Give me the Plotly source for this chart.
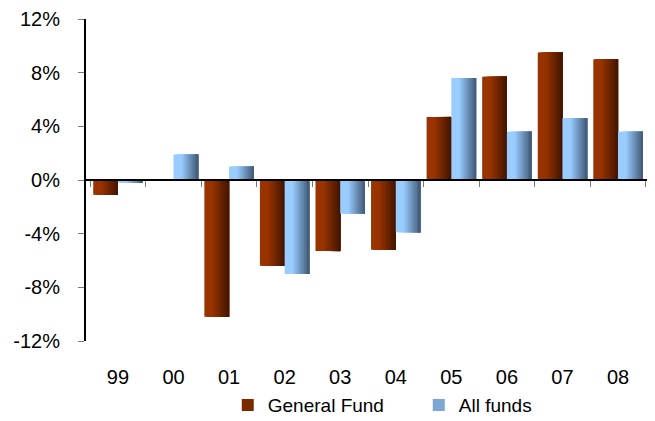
import plotly.graph_objects as go

YEARS = ["99", "00", "01", "02", "03", "04", "05", "06", "07", "08"]
GENERAL_FUND = [-1.1, 0.0, -10.2, -6.4, -5.3, -5.2, 4.7, 7.7, 9.5, 9.0]
ALL_FUNDS = [-0.2, 1.9, 1.0, -7.0, -2.5, -3.9, 7.6, 3.6, 4.6, 3.6]
Y_TICKS = [-12, -8, -4, 0, 4, 8, 12]
Y_LABELS = ["-12%", "-8%", "-4%", "0%", "4%", "8%", "12%"]

FONT = "Liberation Sans, Arial, sans-serif"
BAR_W = 0.445
SLICES = 14


def blend(c1, c2, t):
    return "rgb({},{},{})".format(*[round(a + (b - a) * t) for a, b in zip(c1, c2)])


def gradient_bars(fig, name, values, start, left, right):
    # fake a horizontal gradient with stacked slices, each reaching to the bar's right edge;
    # left third stays flat, then darkens towards the right edge
    step = BAR_W / SLICES
    for i in range(SLICES):
        t = max(0.0, (i / (SLICES - 1) - 0.3) / 0.7)
        fig.add_trace(go.Bar(
            x=YEARS, y=values, name=name, legendgroup=name,
            showlegend=(i == SLICES // 2),
            offset=start + i * step, width=BAR_W - i * step,
            marker=dict(color=blend(left, right, t), line=dict(width=0)),
            xaxis="x", yaxis="y",
        ))


fig = go.Figure()
gradient_bars(fig, "General Fund", GENERAL_FUND, -BAR_W, (153, 51, 0), (70, 22, 0))
gradient_bars(fig, "All funds", ALL_FUNDS, 0.0, (153, 204, 255), (68, 94, 124))

# invisible trace just to carry category labels at the bottom
fig.add_trace(go.Scatter(x=YEARS, y=[0] * len(YEARS), xaxis="x2", yaxis="y",
                         mode="markers", marker=dict(opacity=0), showlegend=False,
                         hoverinfo="skip"))

# page body adds an 8px margin, so the figure is a bit smaller than the window
fig.update_layout(
    width=647, height=413,
    margin=dict(l=78, r=5, t=11, b=80, autoexpand=False),
    plot_bgcolor="white", paper_bgcolor="white",
    barmode="overlay",
    font=dict(family=FONT, size=20, color="black"),
    xaxis=dict(
        anchor="free", position=0.5, showline=True, linecolor="black", linewidth=2,
        ticks="outside", tickson="boundaries", ticklen=6, tickcolor="#777",
        showticklabels=False, showgrid=False, zeroline=False, automargin=False,
    ),
    xaxis2=dict(
        overlaying="x", matches="x", anchor="y", side="bottom",
        showline=False, ticks="", showgrid=False, zeroline=False,
        ticklabelstandoff=22, tickfont=dict(size=20), automargin=False,
    ),
    yaxis=dict(
        range=[-12, 12], tickvals=Y_TICKS, ticktext=Y_LABELS,
        showline=True, linecolor="black", linewidth=2,
        ticks="outside", ticklen=6, tickcolor="#777",
        showgrid=False, zeroline=False, ticklabelstandoff=14, automargin=False,
        ticklabeloverflow="allow",
    ),
    legend=dict(
        orientation="h", x=0.59, xanchor="center", y=-0.14, yanchor="top",
        font=dict(size=19), entrywidth=146, itemwidth=30,
    ),
)

fig.write_html("out.html")
